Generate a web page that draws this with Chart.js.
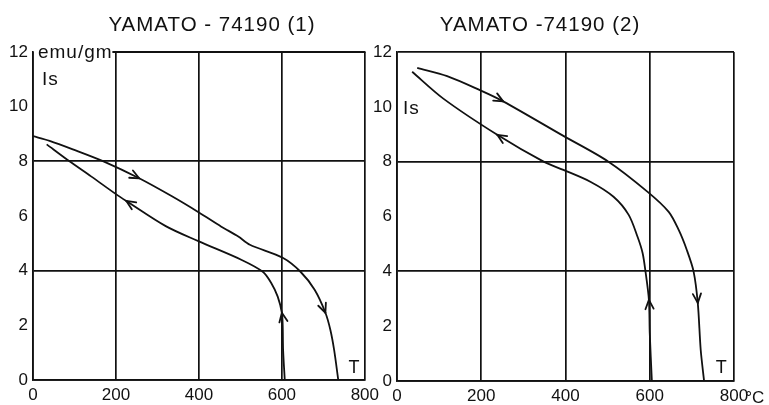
<!DOCTYPE html>
<html>
<head>
<meta charset="utf-8">
<script src="https://cdn.jsdelivr.net/npm/chart.js@4"></script>
<style>
  html, body { margin: 0; padding: 0; background: #fff; }
  #wrap { position: relative; width: 769px; height: 405px; overflow: hidden; }
  canvas { position: absolute; top: 0; }
  #c1 { left: 0; }
  #c2 { left: 365px; }
  .ttl { position: absolute; top: 12px; font: 20.5px "Liberation Sans", Arial, sans-serif; letter-spacing: 1px;
         line-height: 24px; color: #111; white-space: pre; transform: translateX(-50%); }
</style>
</head>
<body>
<div id="wrap">
  <canvas id="c1" width="384" height="405" style="width:384px;height:405px"></canvas>
  <canvas id="c2" width="404" height="405" style="width:404px;height:405px"></canvas>
  <div class="ttl" style="left:212px">YAMATO - 74190 (1)</div>
  <div class="ttl" style="left:540px">YAMATO -74190 (2)</div>
</div>
<script>
// Thermomagnetic curves of Yamato-74190: Is (emu/gm) against T (°C), heating and cooling runs.
const xTicks = [0, 200, 400, 600, 800];
const yTicks = [0, 2, 4, 6, 8, 10, 12];

// sample (1)
const t1Heat  = [0, 40, 96, 170, 256, 335, 400, 454, 495, 523, 602, 645, 679, 705, 717, 726, 736];
const is1Heat = [8.92, 8.75, 8.44, 8.0, 7.38, 6.72, 6.13, 5.61, 5.25, 4.95, 4.47, 3.96, 3.3, 2.46, 1.83, 1.1, 0];
const t1Cool  = [607, 603, 602, 600, 590, 574, 554, 502, 400, 320, 225, 200, 140, 88, 33];
const is1Cool = [0, 1.1, 2.0, 2.46, 3.05, 3.56, 3.96, 4.4, 5.07, 5.63, 6.55, 6.8, 7.45, 8.0, 8.62];

// sample (2)
const t2Heat  = [48, 119, 198, 252, 395, 502, 595, 645, 669, 688, 704, 714, 721, 729];
const is2Heat = [11.42, 11.12, 10.6, 10.2, 8.94, 8.0, 6.9, 6.17, 5.5, 4.78, 4.0, 2.85, 1.13, 0];
const t2Cool  = [605, 600, 598, 590, 583, 571, 550, 514, 460, 395, 348, 238, 110, 36];
const is2Cool = [0, 1.75, 2.96, 3.98, 4.67, 5.26, 6.06, 6.72, 7.26, 7.7, 8.0, 8.98, 10.3, 11.28];

// which points carry an arrowhead (direction of travel)
const arrows1Heat = [4, 13], arrows1Cool = [3, 10];
const arrows2Heat = [3, 11], arrows2Cool = [2, 11];

const ink = '#111';
const fam = '"Liberation Sans", Arial, sans-serif';
const pts = (xs, ys) => xs.map((v, i) => ({ x: v, y: ys[i] }));

// arrowheads, free text, and the partial top frame
const decor = {
  id: 'decor',
  afterDatasetsDraw(chart, args, opts) {
    const { ctx, scales: { x, y } } = chart;
    ctx.save();
    ctx.strokeStyle = ink;
    ctx.lineWidth = 1.8;
    ctx.lineCap = 'round';
    chart.data.datasets.forEach((ds, di) => {
      const els = chart.getDatasetMeta(di).data;
      (ds.arrows || []).forEach(i => {
        const a = els[i - 1], b = els[i + 1], tip = els[i];
        const ang = Math.atan2(b.y - a.y, b.x - a.x);
        [-1, 1].forEach(s => {
          ctx.beginPath();
          ctx.moveTo(tip.x, tip.y);
          ctx.lineTo(tip.x - 10 * Math.cos(ang + s * 0.42), tip.y - 10 * Math.sin(ang + s * 0.42));
          ctx.stroke();
        });
      });
    });
    if (opts.topFrom != null) {
      ctx.beginPath();
      ctx.moveTo(x.getPixelForValue(opts.topFrom), y.getPixelForValue(12));
      ctx.lineTo(x.getPixelForValue(800), y.getPixelForValue(12));
      ctx.stroke();
    }
    ctx.fillStyle = ink;
    ctx.textBaseline = 'alphabetic';
    (opts.labels || []).forEach(l => {
      ctx.font = `${l.size || 19}px ${fam}`;
      ctx.textAlign = l.align || 'left';
      if ('letterSpacing' in ctx) ctx.letterSpacing = (l.sp || 0) + 'px';
      ctx.fillText(l.text, x.getPixelForValue(l.x), y.getPixelForValue(l.y));
    });
    ctx.restore();
  }
};

function makeChart(id, heat, cool, o) {
  return new Chart(document.getElementById(id), {
    type: 'line',
    data: { datasets: [
      { data: heat, arrows: o.heatArrows },
      { data: cool, arrows: o.coolArrows }
    ] },
    options: {
      responsive: false,
      animation: false,
      layout: { padding: { top: 52, right: o.padRight, left: 0, bottom: 0 } },
      elements: {
        line: { borderColor: ink, borderWidth: 1.8, tension: 0.3, fill: false },
        point: { radius: 0, hoverRadius: 0 }
      },
      plugins: {
        legend: { display: false },
        tooltip: { enabled: false },
        decor: { topFrom: o.topFrom, labels: o.labels }
      },
      scales: {
        x: {
          type: 'linear', min: 0, max: 800,
          afterBuildTicks: s => { s.ticks = xTicks.map(v => ({ value: v })); },
          afterFit: s => { s.height = o.xh; },
          ticks: { color: ink, font: { family: fam, size: 17 }, padding: 5, maxRotation: 0, autoSkip: false },
          grid: { color: ink, lineWidth: 1.7, drawTicks: false },
          border: { color: ink, width: 1.7 }
        },
        y: {
          min: 0, max: 12,
          afterBuildTicks: s => { s.ticks = yTicks.map(v => ({ value: v })); },
          afterFit: s => { s.width = o.yw; },
          ticks: { color: ink, font: { family: fam, size: 17 }, padding: 5, autoSkip: false },
          grid: {
            color: c => (c.tick.value % 4 === 0 && !(o.topFrom != null && c.tick.value === 12)) ? ink : 'transparent',
            lineWidth: 1.7, drawTicks: false
          },
          border: { color: ink, width: 1.7 }
        }
      }
    },
    plugins: [decor]
  });
}

makeChart('c1', pts(t1Heat, is1Heat), pts(t1Cool, is1Cool), {
  heatArrows: arrows1Heat, coolArrows: arrows1Cool,
  yw: 33, xh: 25, padRight: 16, topFrom: 193,
  labels: [
    { text: 'emu/gm', x: 12, y: 11.78, sp: 1 },
    { text: 'Is', x: 21.5, y: 10.79, sp: 1 },
    { text: 'T', x: 774, y: 0.26, align: 'center', size: 18 }
  ]
});

makeChart('c2', pts(t2Heat, is2Heat), pts(t2Cool, is2Cool), {
  heatArrows: arrows2Heat, coolArrows: arrows2Cool,
  yw: 32, xh: 24, padRight: 35, topFrom: null,
  labels: [
    { text: 'Is', x: 14, y: 9.74, sp: 1 },
    { text: 'T', x: 769.5, y: 0.29, align: 'center', size: 18 },
    { text: '°C', x: 826.6, y: -0.8, size: 17 }
  ]
});
</script>
</body>
</html>
